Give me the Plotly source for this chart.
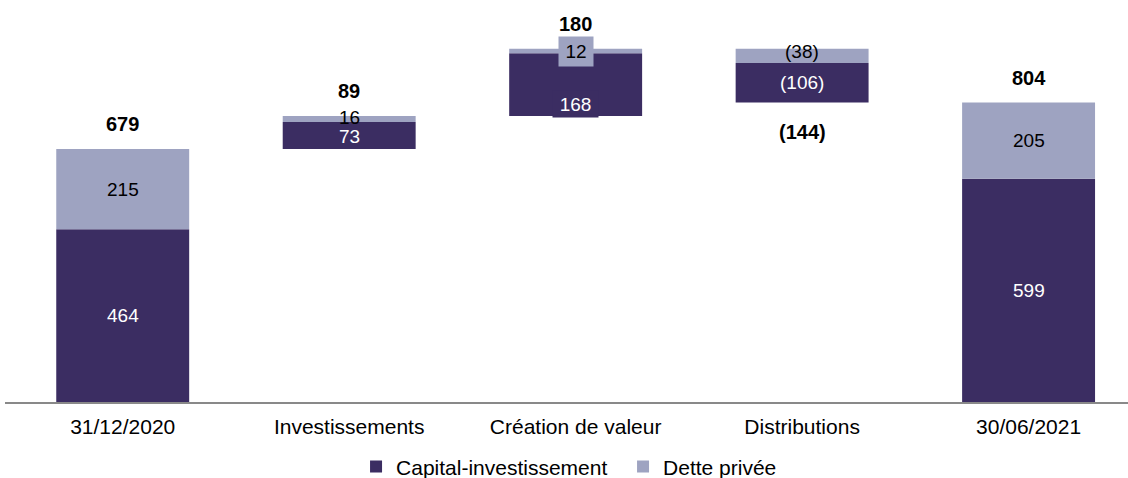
import plotly.graph_objects as go

categories = ["31/12/2020", "Investissements", "Création de valeur", "Distributions", "30/06/2021"]
kinds = ["total", "step", "step", "step", "total"]
capital = [464, 73, 168, -106, 599]
dette = [215, 16, 12, -38, 205]
totals = [679, 89, 180, -144, 804]

DARK = "#3b2d62"
LIGHT = "#9ea3c1"
FONT = "Liberation Sans, Arial, sans-serif"

# waterfall bases
cum = 0
dark_base, light_base = [], []
for k, c, d in zip(kinds, capital, dette):
    if k == "total":
        dark_base.append(0)
        light_base.append(c)
        cum = c + d
    elif c + d >= 0:
        dark_base.append(cum)
        light_base.append(cum + c)
        cum += c + d
    else:
        light_base.append(cum)
        dark_base.append(cum + d)
        cum += c + d

def fmt(v):
    return f"({abs(v)})" if v < 0 else f"{v}"

BW = 0.587
fig = go.Figure()
fig.add_trace(go.Bar(name="Capital-investissement", x=categories, y=capital, base=dark_base,
                     width=BW, marker=dict(color=DARK, line=dict(width=0)), hoverinfo="skip"))
fig.add_trace(go.Bar(name="Dette privée", x=categories, y=dette, base=light_base,
                     width=BW, marker=dict(color=LIGHT, line=dict(width=0)), hoverinfo="skip"))

annotations = []
# per-label fine tuning (pixels) and boxed labels
shift = {(1, "d"): 1, (1, "c"): -1, (2, "c"): -19, (3, "d"): 4}
boxed = {(2, "c"): (DARK, 41, 22, 2), (2, "d"): (LIGHT, 27, 22, 3.5)}
for i, cat in enumerate(categories):
    for key, vals, bases, col, fcol in (("c", capital, dark_base, DARK, "white"),
                                         ("d", dette, light_base, LIGHT, "black")):
        mid = bases[i] + vals[i] / 2
        a = dict(x=cat, y=mid, xref="x", yref="y", text=fmt(vals[i]), showarrow=False,
                 yanchor="middle", yshift=shift.get((i, key), 0),
                 font=dict(family=FONT, size=19, color=fcol))
        if (i, key) in boxed:
            bg, w, h, pad = boxed[(i, key)]
            a.update(bgcolor=bg, width=w, height=h, borderpad=pad)
        annotations.append(a)
    top = max(dark_base[i] + capital[i], light_base[i] + dette[i], dark_base[i], light_base[i])
    bot = min(dark_base[i], light_base[i], dark_base[i] + capital[i], light_base[i] + dette[i])
    if totals[i] >= 0:
        annotations.append(dict(x=cat, y=top, xref="x", yref="y", text=f"<b>{fmt(totals[i])}</b>",
                                showarrow=False, yanchor="middle", yshift=25,
                                font=dict(family=FONT, size=20, color="black")))
    else:
        annotations.append(dict(x=cat, y=bot, xref="x", yref="y", text=f"<b>{fmt(totals[i])}</b>",
                                showarrow=False, yanchor="middle", yshift=-29,
                                font=dict(family=FONT, size=20, color="black")))

fig.update_layout(
    width=1128, height=478,
    margin=dict(l=5, r=0, t=20, b=76, autoexpand=False),
    paper_bgcolor="white", plot_bgcolor="white",
    barmode="overlay",
    showlegend=True,
    legend=dict(orientation="h", x=0.3126, xanchor="left", y=-0.170, yanchor="middle",
                font=dict(family=FONT, size=21, color="black"), entrywidth=222,
                itemwidth=30, traceorder="normal", bgcolor="rgba(0,0,0,0)"),
    annotations=annotations,
    font=dict(family=FONT, size=20, color="black"),
)
fig.update_xaxes(type="category", range=[-0.5198, 4.439], showline=True, linecolor="#898989",
                 linewidth=2, ticks="", showgrid=False, zeroline=False, ticklabelstandoff=5,
                 tickfont=dict(family=FONT, size=21, color="black"), fixedrange=True)
fig.update_yaxes(range=[0, 1025.5], showgrid=False, zeroline=False, showticklabels=False,
                 showline=False, ticks="", fixedrange=True)

fig.write_html("out.html", config={"displayModeBar": False},
               post_script="document.body.style.margin='0';document.body.style.overflow='hidden';")
